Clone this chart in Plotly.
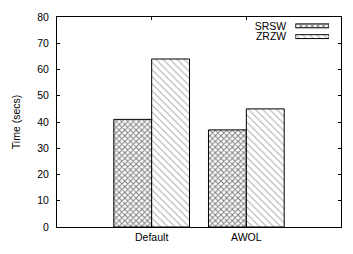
import plotly.graph_objects as go

categories = ["Default", "AWOL"]
series_names = ["SRSW", "ZRZW"]
srsw_values = [41, 37]
zrzw_values = [64, 45]
y_ticks = [0, 10, 20, 30, 40, 50, 60, 70, 80]

FONT = "Liberation Sans, Arial, sans-serif"
patterns = [
    dict(shape="x", fgcolor="black", bgcolor="white", size=4, solidity=0.45, fillmode="overlay"),
    dict(shape="\\", fgcolor="#555555", bgcolor="white", size=5, solidity=0.2, fillmode="overlay"),
]

fig = go.Figure()
for name, vals, pat in zip(series_names, [srsw_values, zrzw_values], patterns):
    fig.add_trace(go.Bar(
        x=categories, y=vals, name=name, showlegend=False,
        marker=dict(color="white", line=dict(color="black", width=1), pattern=pat),
    ))
    # legend swatch drawn on a small helper axis
    fig.add_trace(go.Bar(
        x=[1], y=[name], orientation="h", xaxis="x2", yaxis="y2", width=0.36,
        showlegend=False, hoverinfo="skip",
        marker=dict(color="white", line=dict(color="black", width=1), pattern=pat),
    ))

fig.update_layout(
    width=353, height=254,
    margin=dict(l=57, r=11, t=14, b=26),
    paper_bgcolor="white", plot_bgcolor="white",
    font=dict(family=FONT, size=10, color="black"),
    barmode="group", bargap=0.2, bargroupgap=0,
    xaxis=dict(
        type="category", range=[-1, 2], showline=True, linecolor="black", linewidth=1,
        mirror="ticks", ticks="inside", ticklen=3, tickcolor="black",
        showgrid=False, zeroline=False, tickfont=dict(size=10.5),
    ),
    yaxis=dict(
        range=[0, 80], tickvals=y_ticks, showline=True, linecolor="black", linewidth=1,
        mirror="ticks", ticks="inside", ticklen=3, tickcolor="black",
        showgrid=False, zeroline=False, ticklabelstandoff=5, tickfont=dict(size=10.5),
        title=dict(text="Time (secs)", standoff=14, font=dict(size=10.5)),
    ),
    xaxis2=dict(domain=[0.839, 0.958], range=[0, 1], anchor="y2", visible=False, fixedrange=True),
    yaxis2=dict(
        domain=[0.8808, 0.9836], anchor="x2", type="category",
        categoryorder="array", categoryarray=series_names, autorange="reversed",
        tickmode="array", tickvals=series_names, ticktext=series_names,
        showline=False, showgrid=False, zeroline=False, ticks="",
        ticklabelstandoff=8, tickfont=dict(size=10.5), fixedrange=True,
    ),
)

fig.write_html("out.html")
